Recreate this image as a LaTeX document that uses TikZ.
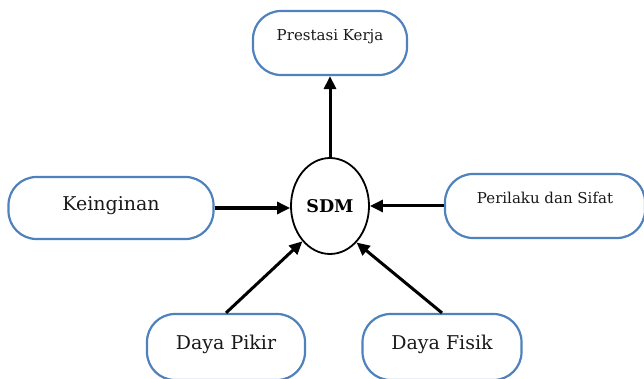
\documentclass[tikz,border=0pt]{standalone}
\usepackage{fontspec}
\setmainfont{DejaVu Serif}
\usetikzlibrary{shapes.geometric,arrows.meta}
\definecolor{boxblue}{RGB}{79,129,189}
\tikzset{
  rbox/.style={draw=boxblue,line width=2.2pt,rounded corners=28pt,fill=white,inner sep=0pt},
  lbl/.style={inner sep=0pt,text=black!90},
  conn/.style={line width=3pt,-{Triangle[length=13pt,width=12pt]}}
}
\begin{document}
\begin{tikzpicture}[x=1pt,y=-1pt]
\useasboundingbox (0,0) rectangle (644,379);
\clip (0,0) rectangle (644,379);
\node[rbox,minimum width=154pt,minimum height=64pt] (top) at (330,43) {};
\node[lbl,font=\fontsize{15}{17}\selectfont] (toptxt) at (330,37) {Prestasi Kerja};
\node[rbox,minimum width=205pt,minimum height=62pt] (left) at (111,208) {};
\node[lbl,font=\fontsize{19}{21}\selectfont] (lefttxt) at (111,206) {Keinginan};
\node[rbox,minimum width=200pt,minimum height=64pt] (right) at (545,206) {};
\node[lbl,font=\fontsize{15}{17}\selectfont] (righttxt) at (545,198) {Perilaku dan Sifat};
\node[rbox,minimum width=158pt,minimum height=66pt] (dp) at (226,347) {};
\node[lbl,font=\fontsize{19}{21}\selectfont] (dptxt) at (226,344) {Daya Pikir};
\node[rbox,minimum width=159pt,minimum height=66pt] (df) at (442,347) {};
\node[lbl,font=\fontsize{19}{21}\selectfont] (dftxt) at (442,344) {Daya Fisik};
\node[draw,ellipse,line width=1.8pt,minimum width=78pt,minimum height=96pt,inner sep=0pt,font=\fontsize{17.5}{19}\selectfont\bfseries] (sdm) at (330,206) {SDM};
\draw[conn] (sdm.north) -- (top.south);
\draw[conn] (left.east) -- (left.east -| sdm.west);
\draw[conn] (right.west) -- (right.west -| sdm.east);
\draw[conn] (dp.north) -- (sdm.232);
\draw[conn] (df.north) -- (sdm.306);
\end{tikzpicture}
\end{document}
